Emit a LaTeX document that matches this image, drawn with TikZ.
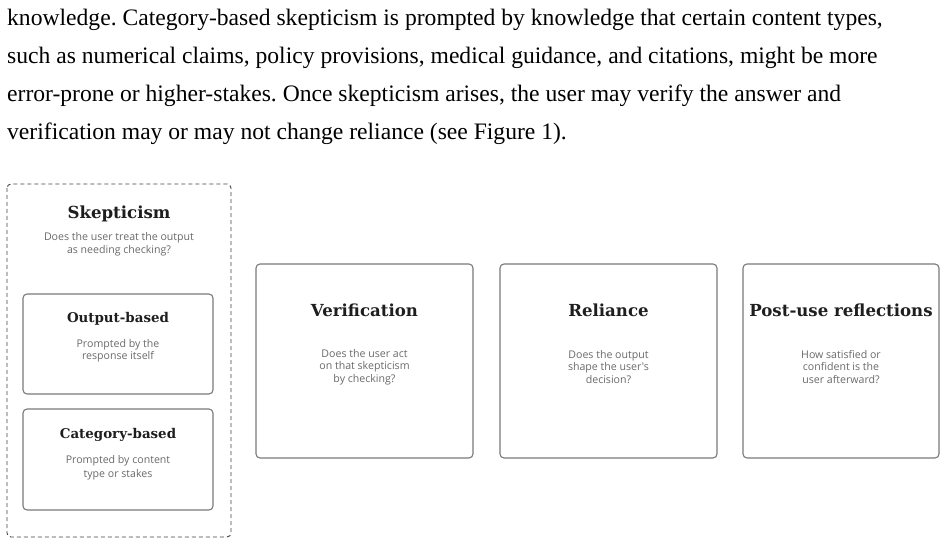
\documentclass[tikz,border=0pt]{standalone}
\usepackage{fontspec}
\setmainfont{Liberation Serif}
\newfontfamily\titlefont{DejaVu Serif}
\newfontfamily\bodyfont{Open Sans}
\definecolor{titlecol}{HTML}{1E1E1E}
\definecolor{bodycol}{HTML}{6A6A6A}
\definecolor{boxcol}{HTML}{7A7A7A}
\definecolor{dashcol}{HTML}{444444}
\tikzset{
  para/.style={anchor=base west, inner sep=0pt, font=\fontsize{23.6}{23.6}\selectfont, text=black},
  boxttl/.style={anchor=base, inner sep=0pt, font=\titlefont\bfseries\fontsize{16.6}{18}\selectfont, text=titlecol},
  subttl/.style={boxttl, font=\titlefont\bfseries\fontsize{13.4}{15}\selectfont},
  boxbody/.style={anchor=center, inner sep=0pt, align=center, font=\bodyfont\fontsize{10.6}{12.3}\selectfont, text=bodycol},
  card/.style={draw=boxcol, line width=1.1pt, rounded corners=4pt},
  group/.style={draw=dashcol, line width=0.9pt, dash pattern=on 4pt off 3pt, rounded corners=4pt}
}
\begin{document}
\frenchspacing
\begin{tikzpicture}[x=1pt,y=-1pt]
\useasboundingbox[fill=white] (0,0) rectangle (946,556);
% paragraph
\node[para] (l1) at (7,26) {knowledge. Category-based skepticism is prompted by knowledge that certain content types,};
\node[para] (l2) at (7,64) {such as numerical claims, policy provisions, medical guidance, and citations, might be more};
\node[para] (l3) at (7,102) {error-prone or higher-stakes. Once skepticism arises, the user may verify the answer and};
\node[para] (l4) at (7,140) {verification may or may not change reliance (see Figure 1).};
% skepticism group
\draw[group] (7,184) rectangle (231,537);
\node[boxttl] (skt) at (119,219) {Skepticism};
\node[boxbody] (skb) at (119,244.5) {Does the user treat the output\\[0.8pt]as needing checking?};
% output-based
\draw[card] (23,294) rectangle (213,394);
\node[subttl] (obt) at (118,323) {Output-based};
\node[boxbody] (obb) at (118,351) {Prompted by the\\response itself};
% category-based
\draw[card] (23,409) rectangle (213,510);
\node[subttl] (cbt) at (118,438) {Category-based};
\node[boxbody] (cbb) at (118,468) {Prompted by content\\[1.5pt]type or stakes};
% verification
\draw[card] (256,264) rectangle (473,458);
\node[boxttl] (vt) at (364.5,317) {Verification};
\node[boxbody] (vb) at (364.5,367) {Does the user act\\on that skepticism\\by checking?};
% reliance
\draw[card] (500,264) rectangle (717,458);
\node[boxttl] (rt) at (608.5,317) {Reliance};
\node[boxbody] (rb) at (608.5,367) {Does the output\\shape the user's\\decision?};
% post-use
\draw[card] (743,264) rectangle (939,458);
\node[boxttl] (pt) at (841,317) {Post-use reflections};
\node[boxbody] (pb) at (841,367) {How satisfied or\\confident is the\\user afterward?};
\end{tikzpicture}
\end{document}
